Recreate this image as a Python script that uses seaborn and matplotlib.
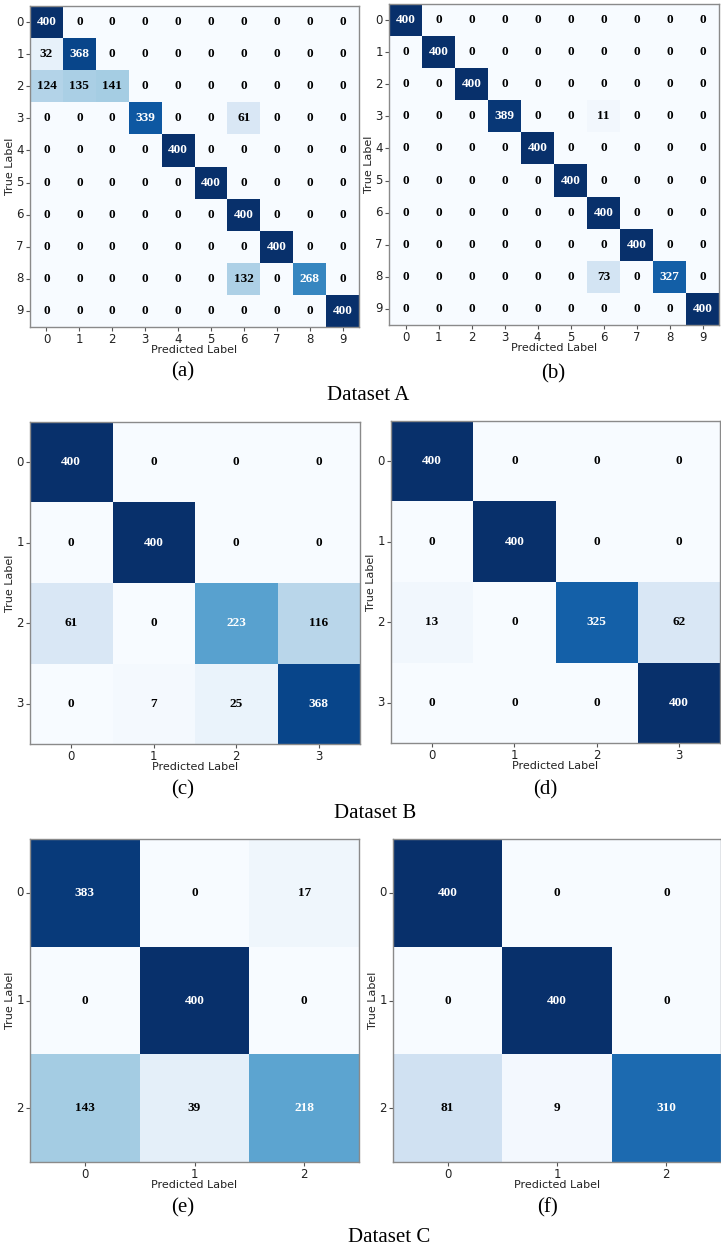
import numpy as np
import matplotlib
matplotlib.use("Agg")
import matplotlib.pyplot as plt
import seaborn as sns

# Confusion matrices (rows: true label, columns: predicted label)
cm_a = [
    [400, 0, 0, 0, 0, 0, 0, 0, 0, 0],
    [32, 368, 0, 0, 0, 0, 0, 0, 0, 0],
    [124, 135, 141, 0, 0, 0, 0, 0, 0, 0],
    [0, 0, 0, 339, 0, 0, 61, 0, 0, 0],
    [0, 0, 0, 0, 400, 0, 0, 0, 0, 0],
    [0, 0, 0, 0, 0, 400, 0, 0, 0, 0],
    [0, 0, 0, 0, 0, 0, 400, 0, 0, 0],
    [0, 0, 0, 0, 0, 0, 0, 400, 0, 0],
    [0, 0, 0, 0, 0, 0, 132, 0, 268, 0],
    [0, 0, 0, 0, 0, 0, 0, 0, 0, 400],
]
cm_b = [
    [400, 0, 0, 0, 0, 0, 0, 0, 0, 0],
    [0, 400, 0, 0, 0, 0, 0, 0, 0, 0],
    [0, 0, 400, 0, 0, 0, 0, 0, 0, 0],
    [0, 0, 0, 389, 0, 0, 11, 0, 0, 0],
    [0, 0, 0, 0, 400, 0, 0, 0, 0, 0],
    [0, 0, 0, 0, 0, 400, 0, 0, 0, 0],
    [0, 0, 0, 0, 0, 0, 400, 0, 0, 0],
    [0, 0, 0, 0, 0, 0, 0, 400, 0, 0],
    [0, 0, 0, 0, 0, 0, 73, 0, 327, 0],
    [0, 0, 0, 0, 0, 0, 0, 0, 0, 400],
]
cm_c = [
    [400, 0, 0, 0],
    [0, 400, 0, 0],
    [61, 0, 223, 116],
    [0, 7, 25, 368],
]
cm_d = [
    [400, 0, 0, 0],
    [0, 400, 0, 0],
    [13, 0, 325, 62],
    [0, 0, 0, 400],
]
cm_e = [
    [383, 0, 17],
    [0, 400, 0],
    [143, 39, 218],
]
cm_f = [
    [400, 0, 0],
    [0, 400, 0],
    [81, 9, 310],
]

panel_letters = ["(a)", "(b)", "(c)", "(d)", "(e)", "(f)"]
dataset_names = ["Dataset A", "Dataset B", "Dataset C"]

W, H = 721, 1247
fig = plt.figure(figsize=(W / 100, H / 100), dpi=100)

# axes boxes in pixels: left, top, right, bottom
boxes = [
    (30, 6, 359, 327),
    (389, 4, 719, 325),
    (30, 422, 360, 744),
    (391, 421, 720, 743),
    (30, 839, 359, 1162),
    (393, 839, 721, 1162),
]
letter_pos = [(183, 372), (553, 374), (183, 790), (545, 790), (183, 1208), (547, 1208)]
dataset_pos = [(368, 395), (375, 813), (389, 1238)]

mats = [cm_a, cm_b, cm_c, cm_d, cm_e, cm_f]
serif = "Liberation Serif"

for k, (cm, box) in enumerate(zip(mats, boxes)):
    l, t, r, b = box
    ax = fig.add_axes([l / W, 1 - b / H, (r - l) / W, (b - t) / H])
    arr = np.array(cm)
    n = arr.shape[0]
    labels = [str(i) for i in range(n)]
    sns.heatmap(arr, cmap="Blues", vmin=0, vmax=400, cbar=False, ax=ax,
                xticklabels=labels, yticklabels=labels, square=False)
    thresh = arr.max() / 2.0
    fs = 9.5
    for i in range(n):
        for j in range(n):
            v = arr[i, j]
            ax.text(j + 0.5, i + 0.5, str(v), ha="center", va="center",
                    family=serif, fontweight="bold", fontsize=fs,
                    color="white" if v > thresh else "black")
    for s in ax.spines.values():
        s.set_visible(True)
        s.set_color("#8a8a8a")
        s.set_linewidth(1.0)
    ax.tick_params(axis="both", length=3, width=0.8, color="#555555",
                   labelsize=8.5, labelcolor="#222222", pad=1.5)
    ax.tick_params(axis="y", rotation=0)
    ax.tick_params(axis="x", rotation=0)
    ax.set_xlabel("Predicted Label", fontsize=8, color="#222222", labelpad=-1)
    ax.set_ylabel("True Label", fontsize=8, color="#222222", labelpad=1)
    lx, ly = letter_pos[k]
    fig.text(lx / W, 1 - ly / H, panel_letters[k], ha="center", va="center",
             family=serif, fontsize=15)

for name, (dx, dy) in zip(dataset_names, dataset_pos):
    fig.text(dx / W, 1 - dy / H, name, ha="center", va="center",
             family=serif, fontsize=15)

fig.savefig("out.png", dpi=100)
